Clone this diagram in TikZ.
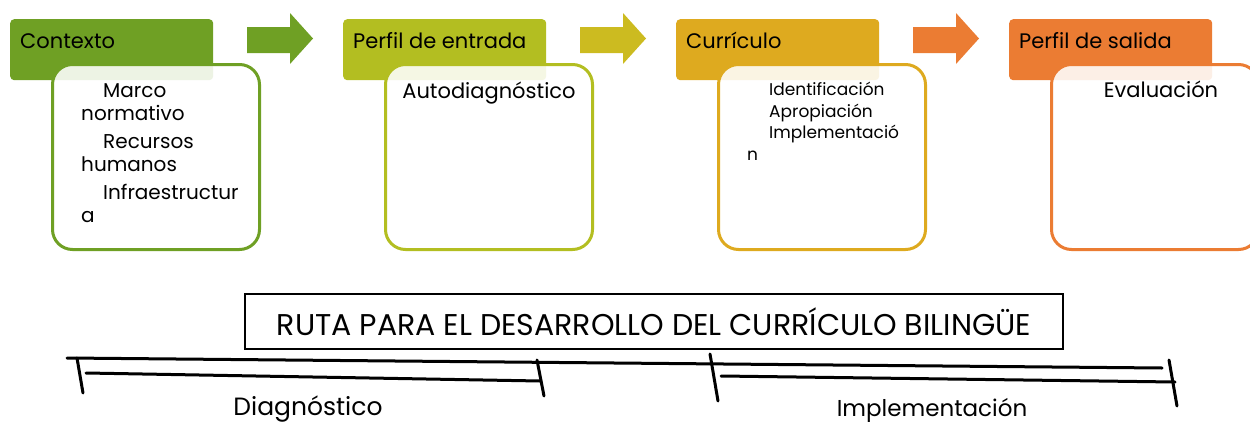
\documentclass[tikz,border=0pt]{standalone}
\usepackage{fontspec}
\setmainfont{Poppins}
\usetikzlibrary{positioning}

\definecolor{ctxgreen}{HTML}{6FA024}
\definecolor{inlime}{HTML}{B3BE21}
\definecolor{arrowlime}{HTML}{CCBB20}
\definecolor{curgold}{HTML}{DEAA1F}
\definecolor{outorange}{HTML}{EB7C33}

\tikzset{
  header/.style={fill=#1, rounded corners=4pt, minimum width=203pt, minimum height=61pt,
    anchor=north west, inner sep=0pt},
  stagebox/.style={draw=#1, line width=3pt, fill=white, fill opacity=0.88, text opacity=1,
    rounded corners=20pt, minimum width=207pt, minimum height=185pt, anchor=north west, inner sep=0pt},
  headtext/.style={font=\fontsize{21}{24}\selectfont, anchor=base west, inner sep=0pt},
  itemtext/.style={font=\fontsize{20}{23.5}\selectfont, align=left, anchor=north west, inner sep=0pt},
  smalltext/.style={font=\fontsize{17}{21.5}\selectfont, align=left, anchor=north west, inner sep=0pt},
  phase/.style={font=\fontsize{25}{30}\selectfont, anchor=base, inner sep=0pt},
  rule/.style={line width=3pt, line cap=round}
}

\begin{document}
\begin{tikzpicture}[x=1pt,y=-1pt]
  \useasboundingbox (0,0) rectangle (1250,423);

  % stage headers
  \node[header=ctxgreen] (ctxhead) at (10,19) {};
  \node[header=inlime] (inhead) at (343,19) {};
  \node[header=curgold] (curhead) at (676,19) {};
  \node[header=outorange] (outhead) at (1009,19) {};
  \node[headtext] (ctxlabel) at ([xshift=10pt,yshift=-29pt]ctxhead.north west) {Contexto};
  \node[headtext] (inlabel) at ([xshift=10pt,yshift=-29pt]inhead.north west) {Perfil de entrada};
  \node[headtext] (curlabel) at ([xshift=10pt,yshift=-29pt]curhead.north west) {Currículo};
  \node[headtext] (outlabel) at ([xshift=10pt,yshift=-29pt]outhead.north west) {Perfil de salida};

  % arrows between the stages
  \foreach \ax/\acol in {247/ctxgreen,580/arrowlime,913/outorange}
    \fill[\acol] (\ax,27) -- ++(43,0) -- ++(0,-14) -- ++(23,25.5) -- ++(-23,25.5)
      -- ++(0,-11) -- ++(-43,0) -- cycle;

  % stage boxes
  \node[stagebox=ctxgreen] (ctxbox) at (51,63) {};
  \node[stagebox=inlime] (inbox) at (384,63) {};
  \node[stagebox=curgold] (curbox) at (717,63) {};
  \node[stagebox=outorange] (outbox) at (1050,63) {};

  \node[itemtext] (ctxitems) at ([xshift=30pt,yshift=-20pt]ctxbox.north west)
    {\hspace*{22pt}Marco\\normativo\\[4pt]\hspace*{22pt}Recursos\\humanos\\[4pt]%
     \hspace*{22pt}Infraestructur\\a};
  \node[headtext, anchor=base] (initems) at ([yshift=-35pt]inbox.north) {Autodiagnóstico};
  \node[smalltext] (curitems) at ([xshift=30pt,yshift=-19pt]curbox.north west)
    {\hspace*{22pt}Identificación\\\hspace*{22pt}Apropiación\\\hspace*{22pt}Implementació\\n};
  \node[headtext, anchor=base] (outitems) at ([xshift=6pt,yshift=-34pt]outbox.north) {Evaluación};

  % title
  \node[draw, line width=1.2pt, minimum width=818pt, minimum height=55pt, inner sep=0pt,
    font=\fontsize{30}{34}\selectfont] (ruta) at (654,321.5)
    {RUTA PARA EL DESARROLLO DEL CURRÍCULO BILINGÜE};

  % time line
  \coordinate (lineA) at (67,358);
  \coordinate (lineB) at (1162,368);
  \coordinate (tickAa) at (77,358);
  \coordinate (tickAb) at (83,393);
  \coordinate (diagA) at (86,373);
  \coordinate (diagB) at (540,381);
  \coordinate (tickBa) at (537,360);
  \coordinate (tickBb) at (544,396);
  \coordinate (tickCa) at (710,354);
  \coordinate (tickCb) at (718,401);
  \coordinate (implA) at (721,376);
  \coordinate (implB) at (1175,382);
  \coordinate (tickDa) at (1169,360);
  \coordinate (tickDb) at (1177,406);
  \draw[rule] (lineA) -- (lineB);
  \draw[rule] (tickAa) -- (tickAb);
  \draw[rule] (diagA) -- (diagB);
  \draw[rule] (tickBa) -- (tickBb);
  \draw[rule] (tickCa) -- (tickCb);
  \draw[rule] (implA) -- (implB);
  \draw[rule] (tickDa) -- (tickDb);

  \node[phase] (diag) at (308,415) {Diagnóstico};
  \node[phase, font=\fontsize{23}{28}\selectfont] (impl) at (932,416) {Implementación};
\end{tikzpicture}
\end{document}
